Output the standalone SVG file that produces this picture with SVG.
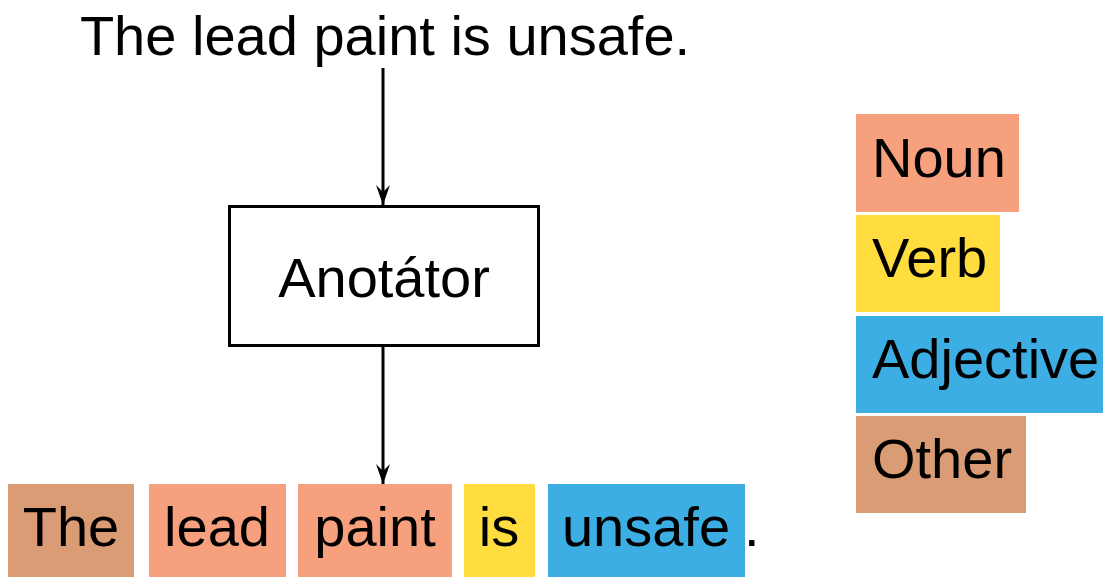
<svg xmlns="http://www.w3.org/2000/svg" width="1103" height="577" viewBox="0 0 1103 577">
<defs>
<style>
text{font-family:"Liberation Sans",Arial,sans-serif;font-size:56px;fill:#000}
.c{text-anchor:middle}
.noun{fill:#F7A07E}
.verb{fill:#FFDD3F}
.adj{fill:#3DAEE4}
.oth{fill:#DA9C75}
.edge{stroke:#000;stroke-width:3;fill:none}
</style>
<marker id="ah" markerWidth="22" markerHeight="16" refX="20" refY="8" orient="auto" markerUnits="userSpaceOnUse" viewBox="0 0 22 16">
<path d="M0,1 L20,8 L0,15 L7,8 Z" fill="#000"/>
</marker>
</defs>
<rect width="1103" height="577" fill="#fff"/>
<g id="input"><text x="385" y="55" class="c">The lead paint is unsafe.</text></g>
<g id="annotator">
<rect x="229.5" y="206.5" width="309" height="139" fill="#fff" stroke="#000" stroke-width="3"/>
<text x="384" y="297" class="c">Anotátor</text>
</g>
<g id="connectors">
<line class="edge" x1="383" y1="68" x2="383" y2="205" marker-end="url(#ah)"/>
<line class="edge" x1="383" y1="347" x2="383" y2="484" marker-end="url(#ah)"/>
</g>
<g id="output">
<rect class="oth" x="8" y="484" width="126" height="93"/>
<text x="71" y="546" class="c">The</text>
<rect class="noun" x="149" y="484" width="137" height="93"/>
<text x="217" y="546" class="c">lead</text>
<rect class="noun" x="298" y="484" width="154" height="93"/>
<text x="375" y="546" class="c">paint</text>
<rect class="verb" x="464" y="484" width="71" height="93"/>
<text x="499" y="546" class="c">is</text>
<rect class="adj" x="548" y="484" width="197" height="93"/>
<text x="646" y="546" class="c">unsafe</text>
<text x="744" y="546">.</text>
</g>
<g id="legend-noun"><rect class="noun" x="856" y="114" width="163" height="98"/><text x="872" y="177">Noun</text></g>
<g id="legend-verb"><rect class="verb" x="856" y="215" width="144" height="97"/><text x="872" y="277">Verb</text></g>
<g id="legend-adjective"><rect class="adj" x="856" y="316" width="247" height="97"/><text x="872" y="378">Adjective</text></g>
<g id="legend-other"><rect class="oth" x="856" y="416" width="170" height="97"/><text x="872" y="478">Other</text></g>
</svg>
